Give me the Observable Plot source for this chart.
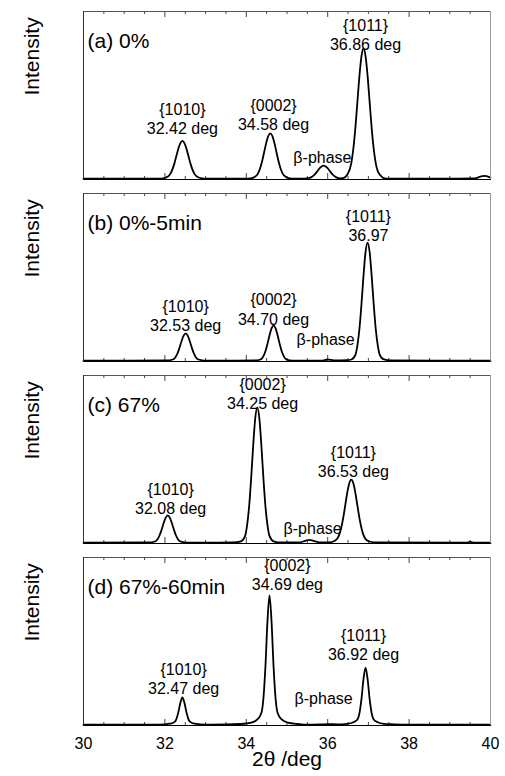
<!DOCTYPE html>
<html><head><meta charset="utf-8">
<script src="https://cdn.jsdelivr.net/npm/d3@7"></script>
<script src="https://cdn.jsdelivr.net/npm/@observablehq/plot@0.6"></script>
<style>body{margin:0;background:#fff;}</style>
</head><body><div id="chart"></div>
<script>
const panelIds = ["a", "b", "c", "d"];
const panelTitles = ["(a) 0%", "(b) 0%-5min", "(c) 67%", "(d) 67%-60min"];
const yLabel = "Intensity";
const xAxisLabel = "2θ /deg";
const xTickValues = [30, 32, 34, 36, 38, 40];
const majorTicks = [32, 34, 36, 38];
const minorTicks = [30.5, 31, 31.5, 32.5, 33, 33.5, 34.5, 35, 35.5, 36.5, 37, 37.5, 38.5, 39, 39.5];

// panel (a) 0%
const thetaA = [30, 31.9, 32.03, 32.13, 32.18, 32.23, 32.28, 32.33, 32.38, 32.43, 32.48, 32.53, 32.58, 32.63, 32.68, 32.73, 32.83, 32.98, 33.5,
  34.04, 34.19, 34.29, 34.34, 34.39, 34.44, 34.49, 34.54, 34.59, 34.64, 34.69, 34.74, 34.79, 34.84, 34.89, 34.99, 35.14,
  35.35, 35.5, 35.6, 35.65, 35.7, 35.75, 35.8, 35.85, 35.9, 35.95, 36.0, 36.05, 36.1, 36.15, 36.2, 36.3, 36.38,
  36.48, 36.58, 36.63, 36.68, 36.73, 36.78, 36.83, 36.88, 36.93, 36.98, 37.03, 37.08, 37.13, 37.18, 37.28, 37.43, 38.5,
  39.6, 39.7, 39.8, 39.87, 39.95, 40];
const intA = [0.5, 0.5, 1.2, 3.2, 5.7, 9.3, 13.8, 18.3, 21.7, 23.0, 21.7, 18.3, 13.8, 9.3, 5.7, 3.2, 1.2, 0.5, 0.5,
  0.5, 1.3, 3.7, 6.7, 11.0, 16.4, 21.8, 25.9, 27.5, 25.9, 21.8, 16.4, 11.0, 6.7, 3.7, 1.3, 0.5,
  0.5, 0.7, 1.4, 2.3, 3.5, 5.1, 6.7, 7.8, 8.3, 7.8, 6.7, 5.1, 3.5, 2.3, 1.4, 0.7, 0.8,
  2.8, 9.8, 18.3, 30.7, 46.2, 61.7, 73.4, 78.0, 73.4, 61.7, 46.2, 30.7, 18.3, 9.8, 2.8, 0.5, 0.5,
  0.6, 1.3, 2.0, 2.2, 1.6, 1.2];

// panel (b) 0%-5min
const thetaB = [30, 32.06, 32.11, 32.21, 32.26, 32.31, 32.36, 32.41, 32.46, 32.51, 32.56, 32.61, 32.66, 32.71, 32.76, 32.81, 32.91, 33.0,
  34.22, 34.27, 34.37, 34.42, 34.47, 34.52, 34.57, 34.62, 34.67, 34.72, 34.77, 34.82, 34.87, 34.92, 34.97, 35.07, 35.2,
  35.85, 36.0, 36.15, 36.48, 36.58, 36.68, 36.73, 36.78, 36.83, 36.88, 36.93, 36.98, 37.03, 37.08, 37.13, 37.18, 37.23, 37.28, 37.38, 37.55, 40];
const intB = [0.5, 0.6, 0.7, 1.3, 2.6, 4.9, 8.3, 12.2, 15.4, 16.7, 15.4, 12.2, 8.3, 4.9, 2.6, 1.3, 0.7, 0.5,
  0.6, 0.7, 1.5, 3.2, 6.1, 10.5, 15.5, 19.7, 21.4, 19.7, 15.5, 10.5, 6.1, 3.2, 1.5, 0.7, 0.5,
  0.5, 1.2, 0.6, 0.8, 1.2, 4.0, 9.6, 19.5, 34.2, 51.1, 65.2, 70.8, 65.2, 51.1, 34.2, 19.5, 9.6, 4.0, 1.2, 0.6, 0.5];

// panel (c) 67%
const thetaC = [30, 31.62, 31.67, 31.77, 31.82, 31.87, 31.92, 31.97, 32.02, 32.07, 32.12, 32.17, 32.22, 32.27, 32.32, 32.37, 32.47, 32.6,
  33.67, 33.87, 33.97, 34.02, 34.07, 34.12, 34.17, 34.22, 34.27, 34.32, 34.37, 34.42, 34.47, 34.52, 34.57, 34.67, 34.8,
  35.3, 35.45, 35.55, 35.65, 35.8,
  36.03, 36.18, 36.28, 36.33, 36.38, 36.43, 36.48, 36.53, 36.58, 36.63, 36.68, 36.73, 36.78, 36.83, 36.88, 36.98, 37.15,
  39.4, 39.5, 39.6, 40];
const intC = [0.5, 0.6, 0.7, 1.3, 2.6, 4.9, 8.3, 12.2, 15.4, 16.7, 15.4, 12.2, 8.3, 4.9, 2.6, 1.3, 0.7, 0.5,
  0.6, 1.3, 4.5, 11.0, 22.2, 39.1, 58.5, 74.6, 81.0, 74.6, 58.5, 39.1, 22.2, 11.0, 4.5, 1.3, 0.7,
  0.6, 1.6, 2.2, 1.6, 0.7,
  0.6, 1.6, 5.0, 9.1, 15.1, 22.6, 30.1, 35.8, 38.0, 35.8, 30.1, 22.6, 15.1, 9.1, 5.0, 1.6, 0.6,
  0.5, 1.0, 0.5, 0.5];

// panel (d) 67%-60min
const thetaD = [30, 31.73, 31.98, 32.13, 32.23, 32.28, 32.33, 32.38, 32.43, 32.48, 32.53, 32.58, 32.63, 32.73, 32.88, 33.13,
  33.87, 34.12, 34.27, 34.37, 34.42, 34.47, 34.52, 34.57, 34.62, 34.67, 34.72, 34.77, 34.87, 35.02, 35.27, 35.5,
  35.8, 36.0, 36.23, 36.48, 36.63, 36.73, 36.78, 36.83, 36.88, 36.93, 36.98, 37.03, 37.08, 37.13, 37.23, 37.38, 37.63, 38.0, 40];
const intD = [0.5, 0.5, 0.7, 1.1, 2.0, 3.7, 7.8, 13.5, 16.7, 13.5, 7.8, 3.7, 2.0, 1.1, 0.7, 0.5,
  0.9, 1.7, 3.6, 7.4, 15.9, 35.1, 62.0, 77.4, 62.0, 35.1, 15.9, 7.4, 3.6, 1.7, 0.9, 0.5,
  0.6, 0.8, 0.7, 1.0, 1.9, 3.6, 7.3, 15.8, 27.7, 34.5, 27.7, 15.8, 7.3, 3.6, 1.9, 1.0, 0.7, 0.5, 0.5];

// peak annotations
const labelPanel = ["a", "a", "a", "a", "b", "b", "b", "b", "c", "c", "c", "c", "d", "d", "d", "d"];
const labelText = [
  "{1010}\n32.42 deg", "{0002}\n34.58 deg", "β-phase", "{1011}\n36.86 deg",
  "{1010}\n32.53 deg", "{0002}\n34.70 deg", "β-phase", "{1011}\n36.97",
  "{1010}\n32.08 deg", "{0002}\n34.25 deg", "β-phase", "{1011}\n36.53 deg",
  "{1010}\n32.47 deg", "{0002}\n34.69 deg", "β-phase", "{1011}\n36.92 deg"];
const labelX = [32.43, 34.67, 35.87, 36.93, 32.51, 34.67, 35.95, 37.0, 32.14, 34.40, 35.63, 36.63, 32.46, 35.01, 35.90, 36.88];
const labelY = [36.3, 38.7, 13.7, 86.3, 27.4, 31.3, 13.7, 81.0, 27.1, 89.6, 9.5, 48.8, 28.3, 90.2, 16.7, 48.2];

const thetas = [thetaA, thetaB, thetaC, thetaD];
const ints = [intA, intB, intC, intD];
const rows = [];
panelIds.forEach((p, i) => thetas[i].forEach((x, j) => rows.push({panel: p, x, y: ints[i][j]})));
const labels = labelText.map((t, i) => ({panel: labelPanel[i], text: t, x: labelX[i], y: labelY[i]}));

const chart = Plot.plot({
  width: 505, height: 776,
  marginTop: 10, marginBottom: 51, marginLeft: 83, marginRight: 15,
  style: {fontFamily: "'Liberation Sans', Arial, sans-serif", background: "#fff", color: "#000"},
  x: {domain: [30, 40], axis: null},
  y: {domain: [0, 100], axis: null},
  fy: {domain: panelIds, axis: null, label: null, paddingInner: 0.0786, paddingOuter: 0},
  marks: [
    Plot.tickX(minorTicks, {x: d => d, insetBottom: 165, stroke: "#444"}),
    Plot.tickX(minorTicks, {x: d => d, insetTop: 165, stroke: "#444"}),
    Plot.tickX(majorTicks, {x: d => d, insetBottom: 162, stroke: "#444"}),
    Plot.tickX(majorTicks, {x: d => d, insetTop: 162, stroke: "#444"}),
    Plot.line(rows, {x: "x", y: "y", fy: "panel", stroke: "#000", strokeWidth: 1.8, curve: "monotone-x"}),
    Plot.frame({anchor: "top", stroke: "#555"}),
    Plot.frame({anchor: "right", stroke: "#999"}),
    Plot.frame({anchor: "left", stroke: "#333"}),
    Plot.frame({anchor: "bottom", stroke: "#000"}),
    Plot.text(labels, {x: "x", y: "y", fy: "panel", text: "text", fontSize: 16, lineHeight: 1.2, fill: "#000"}),
    Plot.text(panelIds, {fy: d => d, text: (d, i) => panelTitles[i], frameAnchor: "top-left", dx: 4, dy: 22, textAnchor: "start", fontSize: 21, fill: "#000"}),
    Plot.text(panelIds, {fy: d => d, text: () => yLabel, frameAnchor: "left", dx: -51, rotate: -90, fontSize: 21, fill: "#000"}),
    Plot.axisX({ticks: xTickValues, tickSize: 0, tickPadding: 12, fontSize: 16, label: null}),
    Plot.text(["d"], {fy: d => d, text: () => xAxisLabel, frameAnchor: "bottom", dy: 40, fontSize: 21, fill: "#000"})
  ]
});
document.getElementById("chart").appendChild(chart);
</script>
</body></html>
